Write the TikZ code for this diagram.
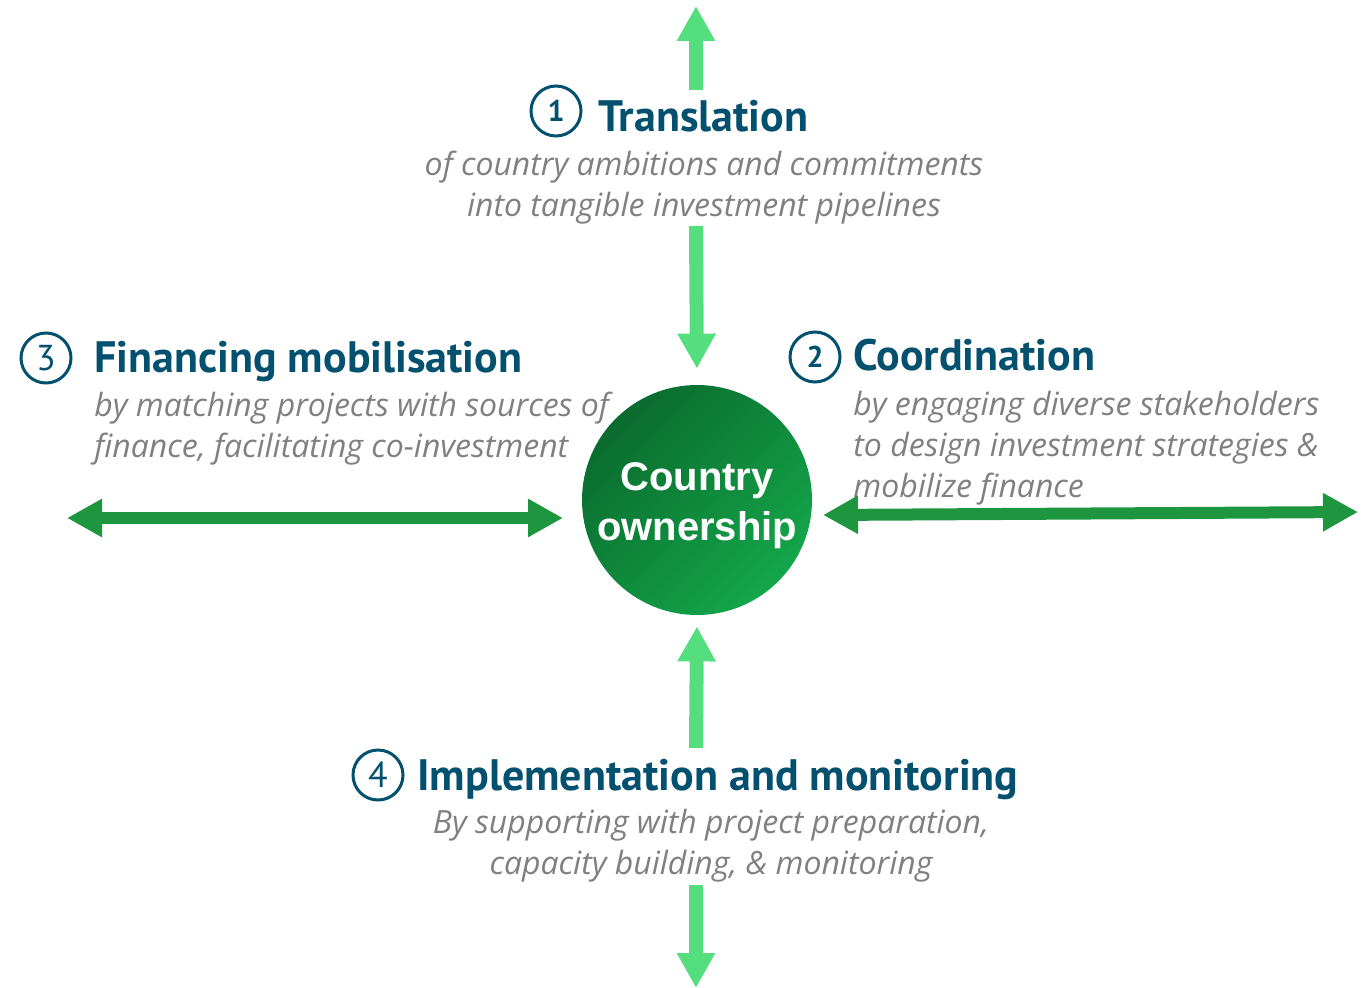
\documentclass[tikz,border=0pt]{standalone}
\usepackage{fontspec}
\setmainfont{Lato}
\newfontfamily\headfont{PT Sans}
\newfontfamily\blurbfont{Open Sans}
\newfontfamily\hubfont{Liberation Sans}
\usetikzlibrary{positioning, calc, arrows.meta}

\definecolor{headteal}{HTML}{03506F}
\definecolor{blurbgray}{HTML}{808080}
\definecolor{lightlink}{HTML}{55DE7E}
\definecolor{darklink}{HTML}{1E9640}
\definecolor{hubdark}{HTML}{0A6B2E}
\definecolor{hublight}{HTML}{14A64A}

\tikzset{
  stage/.style={font=\headfont\bfseries\fontsize{22}{26}\selectfont, text=headteal, inner sep=0pt, anchor=base west},
  badge/.style={circle, draw=headteal, line width=1.5pt, minimum size=25pt, inner sep=0pt,
                font=\headfont\bfseries\fontsize{15}{15}\selectfont, text=headteal},
  blurb/.style={font=\blurbfont\itshape\fontsize{16}{20.5}\selectfont, text=blurbgray, inner sep=0pt},
  vlink/.style={line width=7pt, draw=lightlink, -{Triangle[length=17.5pt,width=18pt]}},
  hlink/.style={line width=6pt, draw=darklink, {Triangle[length=17.5pt,width=18pt]}-{Triangle[length=17.5pt,width=18pt]}},
}

\begin{document}
\begin{tikzpicture}[x=0.5pt, y=-0.5pt]
                \useasboundingbox (0,0) rectangle (1368,988);

                % 1 -- top
                \node[badge] (b1) at (556,111) {1};
                \node[stage] (translation) at (598,132) {Translation};
                \node[blurb, align=center, anchor=north] (translationtxt) at (704,151)
                    {of country ambitions and commitments\\into tangible investment pipelines};

                % 2 -- right
                \node[badge] (b2) at (815,357) {2};
                \node[stage] (coordination) at (853,371) {Coordination};
                \node[blurb, align=left, anchor=north west] (coordinationtxt) at (853,391)
                    {by engaging diverse stakeholders\\to design investment strategies \&\\mobilize finance};

                % 3 -- left
                \node[badge, font=\headfont\fontsize{18}{18}\selectfont] (b3) at (46,358) {3};
                \node[stage] (financing) at (94,372) {Financing mobilisation};
                \node[blurb, align=left, anchor=north west] (financingtxt) at (94,392)
                    {by matching projects with sources of\\finance, facilitating co-investment};

                % 4 -- bottom
                \node[badge, font=\headfont\fontsize{18}{18}\selectfont] (b4) at (378,775) {4};
                \node[stage] (implementation) at (417,790) {Implementation and monitoring};
                \node[blurb, align=center, anchor=north] (implementationtxt) at (711,809)
                    {By supporting with project preparation,\\capacity building, \& monitoring};

                % hub
                \node[circle, minimum size=115pt, inner sep=0pt,
                      top color=hubdark, bottom color=hublight, shading angle=45]
                      (hub) at (697,500) {};
                \node[text=white, font=\hubfont\bfseries\fontsize{20}{25}\selectfont, align=center]
                      (hubtxt) at ($(hub)+(0,6)$) {Country\\ownership};

                % arrows
                \coordinate (topend)   at (696,6);
                \coordinate (topstart) at (696,90);
                \coordinate (upperin)  at (696,226);
                \coordinate (lowerin)  at (696,748);
                \coordinate (botstart) at (696,885);
                \coordinate (botend)   at (696,988);
                \coordinate (leftend)  at (67,518);
                \coordinate (lefthub)  at (563,518);
                \coordinate (righthub) at (823,515);
                \coordinate (rightend) at (1358,512);

                \draw[vlink] (topstart) -- (topend);
                \draw[vlink, shorten >=8pt] (upperin) -- (hub.north);
                \draw[vlink, shorten >=5.5pt] (lowerin) -- (hub.south);
                \draw[vlink] (botstart) -- (botend);
                \draw[hlink] (leftend) -- (lefthub);
                \draw[hlink] (righthub) -- (rightend);
            \end{tikzpicture}
\end{document}
